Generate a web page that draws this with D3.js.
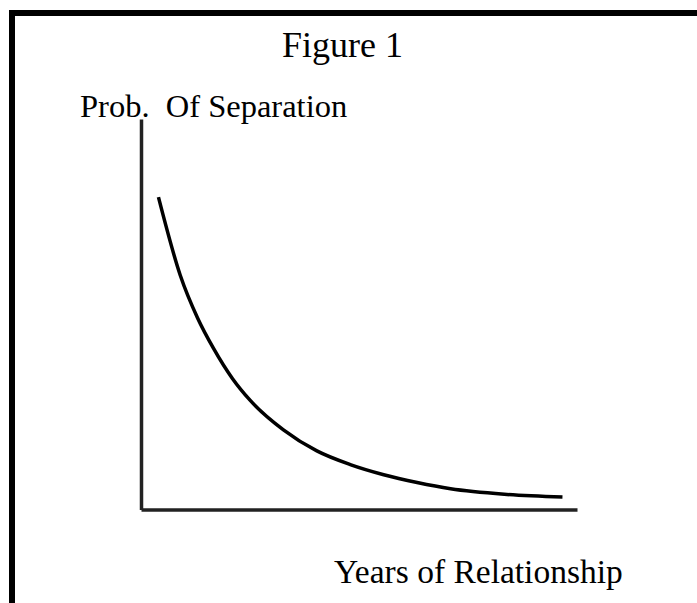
<!DOCTYPE html>
<html>
<head>
<meta charset="utf-8">
<script src="https://cdn.jsdelivr.net/npm/d3@7"></script>
<style>
  body { margin: 0; background: #fff; }
  svg text { font-family: "Liberation Serif", "Times New Roman", serif; fill: #000; }
</style>
</head>
<body>
<svg id="chart"></svg>
<script>
'use strict';

var width = 697,
    height = 603;

// years of relationship vs probability of separation
var years = [1.2, 2.7, 3.9, 5.0, 6.3, 7.5, 9.8, 12.1, 14.4, 16.7, 19.0, 21.3, 25.0, 29.0];
var probSep = [0.800, 0.600, 0.490, 0.412, 0.335, 0.280, 0.204, 0.150, 0.115, 0.089, 0.069, 0.053, 0.039, 0.032];

var titleText = 'Figure 1',
    yLabel = 'Prob.\u00a0 Of Separation',
    xLabel = 'Years of Relationship';

var svg = d3.select('#chart')
  .attr('width', width)
  .attr('height', height);

// frame: only top and left edges show
svg.append('path')
  .attr('d', 'M12,603V13H697')
  .style('fill', 'none')
  .style('stroke', '#000')
  .style('stroke-width', 6);

var x = d3.scaleLinear().domain([0, 30]).range([141, 577]);
var y = d3.scaleLinear().domain([0, 1]).range([509.5, 119]);

// bare axes, no ticks
svg.append('g')
  .attr('transform', 'translate(0,' + y(0) + ')')
  .call(d3.axisBottom(x).ticks(0).tickSize(0))
  .call(g => g.select('.domain').style('stroke', '#222').style('stroke-width', 3.5));

svg.append('g')
  .attr('transform', 'translate(' + x(0) + ',0)')
  .call(d3.axisLeft(y).ticks(0).tickSize(0))
  .call(g => g.select('.domain').style('stroke', '#222').style('stroke-width', 3.5));

var line = d3.line()
  .x((d, i) => x(years[i]))
  .y(d => y(d))
  .curve(d3.curveMonotoneX);

svg.append('path')
  .datum(probSep)
  .attr('d', line)
  .style('fill', 'none')
  .style('stroke', '#000')
  .style('stroke-width', 3.5);

svg.append('text')
  .attr('x', 282)
  .attr('y', 57)
  .style('font-size', '36px')
  .text(titleText);

svg.append('text')
  .attr('x', 80)
  .attr('y', 117)
  .style('font-size', '32.5px')
  .text(yLabel);

svg.append('text')
  .attr('x', 334)
  .attr('y', 583)
  .style('font-size', '33.5px')
  .text(xLabel);
</script>
</body>
</html>
